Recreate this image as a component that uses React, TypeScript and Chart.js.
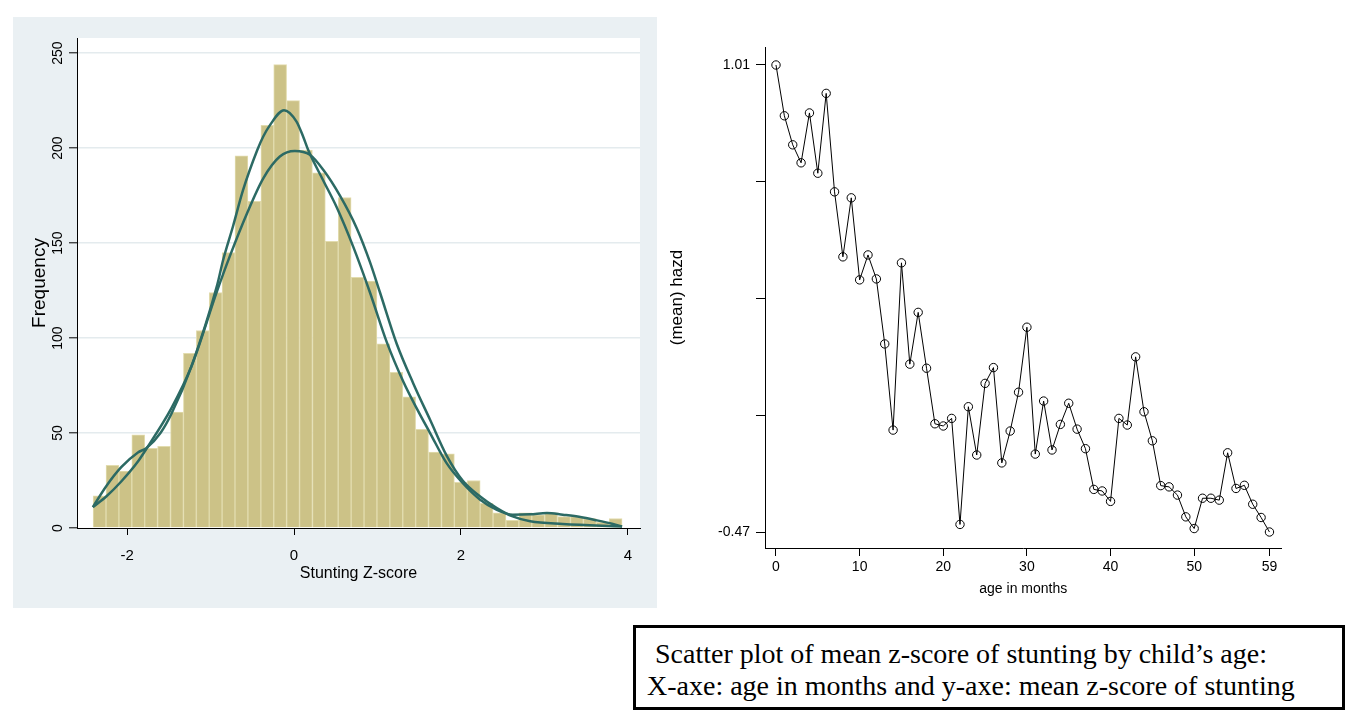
import React, { useEffect, useRef } from "react";
import { Chart, registerables } from "chart.js";

Chart.register(...registerables);

// ---------------- Left panel: histogram of the stunting z-score ----------------
const zScoreBinCenters = [
  -2.33, -2.175, -2.021, -1.866, -1.712, -1.557, -1.402, -1.248, -1.093, -0.939,
  -0.784, -0.63, -0.475, -0.32, -0.166, -0.011, 0.143, 0.298, 0.452, 0.607,
  0.762, 0.916, 1.071, 1.225, 1.38, 1.534, 1.689, 1.844, 1.998, 2.153,
  2.307, 2.462, 2.616, 2.771, 2.925, 3.08, 3.235, 3.389, 3.544, 3.698, 3.853,
];
const zScoreFrequency = [
  17, 33, 30, 49, 42, 43, 61, 92, 104, 124,
  145, 196, 172, 212, 244, 225, 199, 187, 151, 174,
  132, 130, 97, 82, 69, 52, 40, 39, 24, 25,
  13, 8, 4, 8, 7, 8, 6, 6, 5, 3, 5,
];
const normalCurveX = [
  -2.41, -2.25, -2.07, -1.87, -1.77, -1.47, -1.23, -0.92, -0.77, -0.56,
  -0.37, -0.17, 0.01, 0.19, 0.35, 0.55, 0.75, 0.91, 1.03, 1.23,
  1.43, 1.63, 1.83, 2.02, 2.23, 2.43, 2.62, 2.83, 3.22, 3.93,
];
const normalCurveY = [
  11, 16.6, 24.5, 35, 41.6, 63, 85, 125, 143, 166,
  184, 195.6, 198.5, 196.5, 188.6, 175, 158, 140, 124, 97,
  76, 57, 38, 25, 16.6, 10.5, 6.1, 3.5, 2.1, 0.8,
];
const kernelCurveX = [
  -2.41, -2.25, -2.07, -1.87, -1.77, -1.6, -1.47, -1.23, -0.92, -0.85,
  -0.73, -0.61, -0.44, -0.37, -0.29, -0.12, 0.03, 0.11, 0.17, 0.35,
  0.51, 0.71, 0.91, 1.11, 1.31, 1.47, 1.63, 1.83, 2.02, 2.23,
  2.43, 2.62, 2.83, 3.03, 3.22, 3.43, 3.63, 3.82, 3.93,
];
const kernelCurveY = [
  11, 22, 32, 39.8, 42, 50, 60, 85, 128, 141,
  159, 178, 199, 206, 212, 220, 214, 206, 199, 183,
  169, 148, 124, 98, 77, 63, 50, 34, 23.7, 14.9,
  9.6, 7, 7.2, 7.9, 7, 5.8, 4, 2.1, 0.8,
];
const histXTicks = [-2, 0, 2, 4];
const histYTicks = [0, 50, 100, 150, 200, 250];

// ---------------- Right panel: mean z-score by age ----------------
const ageMonths = [
  0, 1, 2, 3, 4, 5, 6, 7, 8, 9, 10, 11, 12, 13, 14, 15, 16, 17, 18, 19,
  20, 21, 22, 23, 24, 25, 26, 27, 28, 29, 30, 31, 32, 33, 34, 35, 36, 37, 38, 39,
  40, 41, 42, 43, 44, 45, 46, 47, 48, 49, 50, 51, 52, 53, 54, 55, 56, 57, 58, 59,
];
const meanHazd = [
  1.01, 0.849, 0.757, 0.7, 0.858, 0.667, 0.92, 0.608, 0.402, 0.589,
  0.329, 0.408, 0.332, 0.126, -0.147, 0.383, 0.062, 0.226, 0.049, -0.127,
  -0.134, -0.11, -0.446, -0.073, -0.226, 0.001, 0.051, -0.251, -0.15, -0.027,
  0.179, -0.223, -0.055, -0.21, -0.129, -0.062, -0.144, -0.206, -0.335, -0.34,
  -0.373, -0.11, -0.131, 0.085, -0.089, -0.181, -0.323, -0.327, -0.353, -0.422,
  -0.459, -0.363, -0.363, -0.369, -0.219, -0.332, -0.322, -0.382, -0.424, -0.47,
];
const ageTicks = [0, 10, 20, 30, 40, 50, 59];
const hazdTicks = [-0.47, -0.1, 0.27, 0.64, 1.01];
const hazdTickLabels = ["-0.47", "", "", "", "1.01"];

const captionLines = [
  "Scatter plot of mean z-score of stunting by child\u2019s age:",
  "X-axe: age in months and y-axe: mean z-score of stunting",
];

const SANS = "'Liberation Sans', Arial, Helvetica, sans-serif";

function HistogramPanel() {
  const ref = useRef<HTMLCanvasElement>(null);
  useEffect(() => {
    const canvas = ref.current;
    if (!canvas) return;
    const panelBackground = {
      id: "panelBackground",
      beforeDraw(chart: any) {
        const { ctx, chartArea, width, height } = chart;
        ctx.save();
        ctx.fillStyle = "#eaf0f3";
        ctx.fillRect(0, 0, width, height);
        ctx.fillStyle = "#ffffff";
        ctx.fillRect(
          chartArea.left,
          chartArea.top,
          chartArea.right - chartArea.left,
          chartArea.bottom - chartArea.top
        );
        ctx.restore();
      },
    };
    const chart = new Chart(canvas, {
      type: "bar",
      data: {
        datasets: [
          {
            type: "bar",
            label: "Frequency",
            data: zScoreBinCenters.map((x, i) => ({ x, y: zScoreFrequency[i] })),
            backgroundColor: "#ccc287",
            borderColor: "#e2dcae",
            borderWidth: 1,
            barPercentage: 1,
            categoryPercentage: 1,
            order: 2,
          } as any,
          {
            type: "line",
            label: "Kernel density",
            data: kernelCurveX.map((x, i) => ({ x, y: kernelCurveY[i] })),
            borderColor: "#2c6a64",
            borderWidth: 2.5,
            pointRadius: 0,
            cubicInterpolationMode: "monotone",
            fill: false,
            order: 1,
          } as any,
          {
            type: "line",
            label: "Normal density",
            data: normalCurveX.map((x, i) => ({ x, y: normalCurveY[i] })),
            borderColor: "#2c6a64",
            borderWidth: 2.5,
            pointRadius: 0,
            cubicInterpolationMode: "monotone",
            fill: false,
            order: 1,
          } as any,
        ],
      },
      options: {
        responsive: false,
        animation: false,
        layout: { padding: { left: 0, top: 21, right: 17, bottom: 0 } },
        plugins: { legend: { display: false }, tooltip: { enabled: false } },
        scales: {
          x: {
            type: "linear",
            min: -2.6,
            max: 4.145,
            offset: false,
            afterBuildTicks: (scale: any) => {
              scale.ticks = histXTicks.map((value) => ({ value }));
            },
            afterFit: (scale: any) => {
              scale.height = 80;
            },
            ticks: {
              autoSkip: false,
              maxRotation: 0,
              padding: 12,
              color: "#000",
              font: { family: SANS, size: 15 },
              callback: (v: any) => String(v),
            },
            grid: {
              drawOnChartArea: false,
              drawTicks: true,
              tickLength: 7,
              tickColor: "#000",
              tickWidth: 1,
              offset: false,
            },
            border: { display: true, color: "#000", width: 1 },
            title: {
              display: true,
              text: "Stunting Z-score",
              color: "#000",
              font: { family: SANS, size: 16 },
              padding: { top: 0, bottom: 25 },
            },
          } as any,
          y: {
            type: "linear",
            min: 0,
            max: 258,
            afterBuildTicks: (scale: any) => {
              scale.ticks = histYTicks.map((value) => ({ value }));
            },
            afterFit: (scale: any) => {
              scale.width = 64;
            },
            ticks: {
              minRotation: 90,
              maxRotation: 90,
              crossAlign: "center",
              padding: -1,
              color: "#000",
              font: { family: SANS, size: 14 },
              callback: (v: any) => String(v),
            },
            grid: {
              color: (ctx: any) =>
                ctx.tick && ctx.tick.value === 0 ? "rgba(0,0,0,0)" : "#e4ebee",
              lineWidth: 1.6,
              drawTicks: true,
              tickLength: 8,
              tickColor: "#000",
              tickWidth: 1,
            },
            border: { display: true, color: "#000", width: 1 },
            title: {
              display: true,
              text: "Frequency",
              color: "#000",
              font: { family: SANS, size: 19 },
              padding: { top: 15, bottom: 0 },
            },
          } as any,
        },
      },
      plugins: [panelBackground],
    });
    return () => chart.destroy();
  }, []);
  return (
    <canvas
      ref={ref}
      width={644}
      height={591}
      style={{ position: "absolute", left: 13, top: 17, width: 644, height: 591 }}
    />
  );
}

function AgePanel() {
  const ref = useRef<HTMLCanvasElement>(null);
  useEffect(() => {
    const canvas = ref.current;
    if (!canvas) return;
    const chart = new Chart(canvas, {
      type: "line",
      data: {
        datasets: [
          {
            label: "(mean) hazd",
            data: ageMonths.map((x, i) => ({ x, y: meanHazd[i] })),
            borderColor: "#000",
            borderWidth: 1,
            tension: 0,
            pointRadius: 4.2,
            pointStyle: "circle",
            pointBorderColor: "#000",
            pointBorderWidth: 1,
            pointBackgroundColor: "rgba(0,0,0,0)",
            fill: false,
          },
        ],
      },
      options: {
        responsive: false,
        animation: false,
        layout: { padding: { left: 0, top: 17, right: 18.5, bottom: 0 } },
        plugins: { legend: { display: false }, tooltip: { enabled: false } },
        scales: {
          x: {
            type: "linear",
            min: -1.315,
            max: 60.44,
            afterBuildTicks: (scale: any) => {
              scale.ticks = ageTicks.map((value) => ({ value }));
            },
            afterFit: (scale: any) => {
              scale.height = 62;
            },
            ticks: {
              autoSkip: false,
              maxRotation: 0,
              padding: 3,
              color: "#000",
              font: { family: SANS, size: 14 },
              callback: (v: any) => String(v),
            },
            grid: {
              drawOnChartArea: false,
              drawTicks: true,
              tickLength: 8,
              tickColor: "#000",
              tickWidth: 1,
            },
            border: { display: true, color: "#000", width: 1 },
            title: {
              display: true,
              text: "age in months",
              color: "#000",
              font: { family: SANS, size: 14 },
              padding: { top: 0, bottom: 12.5 },
            },
          } as any,
          y: {
            type: "linear",
            min: -0.5207,
            max: 1.067,
            afterBuildTicks: (scale: any) => {
              scale.ticks = hazdTicks.map((value) => ({ value }));
            },
            afterFit: (scale: any) => {
              scale.width = 105;
            },
            ticks: {
              padding: 6,
              color: "#000",
              font: { family: SANS, size: 14 },
              callback: (_v: any, i: number) => hazdTickLabels[i],
            },
            grid: {
              drawOnChartArea: false,
              drawTicks: true,
              tickLength: 9,
              tickColor: "#000",
              tickWidth: 1,
            },
            border: { display: true, color: "#000", width: 1 },
            title: {
              display: true,
              text: "(mean) hazd",
              color: "#000",
              font: { family: SANS, size: 17 },
              padding: { top: 7, bottom: 0 },
            },
          } as any,
        },
      },
    });
    return () => chart.destroy();
  }, []);
  return (
    <canvas
      ref={ref}
      width={640}
      height={580}
      style={{ position: "absolute", left: 660, top: 30, width: 640, height: 580 }}
    />
  );
}

function CaptionBox() {
  return (
    <div
      style={{
        position: "absolute",
        left: 633,
        top: 625,
        width: 712,
        height: 85,
        boxSizing: "border-box",
        border: "3px solid #000",
        padding: "10px 0 0 11px",
        fontFamily: "'Liberation Serif', 'Times New Roman', Times, serif",
        fontSize: 28,
        lineHeight: "32px",
        color: "#000",
        whiteSpace: "nowrap",
        background: "#fff",
      }}
    >
      <div style={{ paddingLeft: 8 }}>{captionLines[0]}</div>
      <div>{captionLines[1]}</div>
    </div>
  );
}

export default function App() {
  return (
    <div
      style={{
        position: "absolute",
        left: 0,
        top: 0,
        width: 1360,
        height: 725,
        background: "#fff",
        overflow: "hidden",
      }}
    >
      <HistogramPanel />
      <AgePanel />
      <CaptionBox />
    </div>
  );
}
